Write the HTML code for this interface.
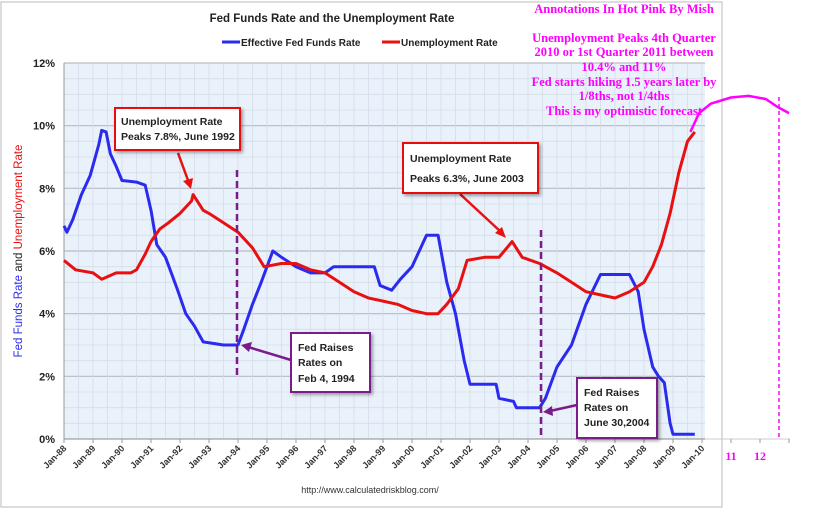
<!DOCTYPE html>
<html><head><meta charset="utf-8">
<style>
body{margin:0;background:#fff;width:820px;height:509px;overflow:hidden;font-family:"Liberation Sans",sans-serif}
svg{display:block}
</style></head>
<body>
<svg id="c" width="820" height="509" xmlns="http://www.w3.org/2000/svg">
<defs>
<filter id="sh" x="-20%" y="-20%" width="150%" height="150%"><feDropShadow dx="2" dy="2" stdDeviation="1.5" flood-color="#000" flood-opacity="0.35"/></filter>
</defs>
<rect x="1" y="2" width="721" height="505" fill="#fff" stroke="#bbb" stroke-width="1"/>
<rect x="64" y="63" width="641" height="376" fill="#e9f1fb"/>
<g id="grid"></g>
<text x="332" y="22" text-anchor="middle" font-weight="bold" font-size="11.5" fill="#222">Fed Funds Rate and the Unemployment Rate</text>
<g>
<g><line x1="222" y1="42" x2="240" y2="42" stroke="#2b2bef" stroke-width="3"/><text x="241" y="46" font-size="10" font-weight="bold" fill="#222">Effective Fed Funds Rate</text></g>
<g><line x1="382" y1="42" x2="400" y2="42" stroke="#e81010" stroke-width="3"/><text x="401" y="46" font-size="10" font-weight="bold" fill="#222">Unemployment Rate</text></g>
</g>
<text transform="translate(22,251) rotate(-90)" text-anchor="middle" font-size="11.5"><tspan fill="#2b2bef">Fed Funds Rate</tspan><tspan fill="#222"> and </tspan><tspan fill="#e81010">Unemployment Rate</tspan></text>
<g id="yt"></g><g id="xt"></g>
<g id="series"></g>
<g font-family="'Liberation Serif',serif" font-weight="bold" font-size="12.5" fill="#ff00ff" text-anchor="middle">
<text x="624" y="13">Annotations In Hot Pink By Mish</text>
<text x="624" y="42">Unemployment Peaks 4th Quarter</text>
<text x="624" y="56">2010 or 1st Quarter 2011 between</text>
<text x="624" y="71">10.4% and 11%</text>
<text x="624" y="86">Fed starts hiking 1.5 years later by</text>
<text x="624" y="100">1/8ths, not 1/4ths</text>
<text x="624" y="115">This is my optimistic forecast</text>
</g>
<line x1="779" y1="97" x2="779" y2="439" stroke="#ff00ff" stroke-width="1.5" stroke-dasharray="4,3"/>
<line x1="237" y1="170" x2="237" y2="375" stroke="#7a1d8a" stroke-width="2.5" stroke-dasharray="7,4"/>
<line x1="541" y1="230" x2="541" y2="439" stroke="#7a1d8a" stroke-width="2.5" stroke-dasharray="7,4"/>
<g>
<line x1="178" y1="153" x2="189" y2="183" stroke="#e81010" stroke-width="2.5"/><path d="M183,181 L191,189 L193,178 Z" fill="#e81010"/>
<rect x="115" y="108" width="125" height="42" fill="#fff" stroke="#e81010" stroke-width="2" filter="url(#sh)"/>
<text x="121" y="125" font-size="10.5" font-weight="bold" fill="#222">Unemployment Rate</text>
<text x="121" y="140" font-size="10.5" font-weight="bold" fill="#222">Peaks 7.8%, June 1992</text></g>
<g>
<line x1="460" y1="194" x2="501" y2="232" stroke="#e81010" stroke-width="2.5"/><path d="M495,233 L506,238 L502,227 Z" fill="#e81010"/>
<rect x="403" y="143" width="135" height="50" fill="#fff" stroke="#e81010" stroke-width="2" filter="url(#sh)"/>
<text x="410" y="162" font-size="10.5" font-weight="bold" fill="#222">Unemployment Rate</text>
<text x="410" y="182" font-size="10.5" font-weight="bold" fill="#222">Peaks 6.3%, June 2003</text></g>
<g>
<line x1="291" y1="360" x2="248" y2="347" stroke="#7a1d8a" stroke-width="2.5"/><path d="M241,345 L252,342 L249,352 Z" fill="#7a1d8a"/>
<rect x="291" y="333" width="79" height="59" fill="#fff" stroke="#7a1d8a" stroke-width="2" filter="url(#sh)"/>
<text x="298" y="351" font-size="10.5" font-weight="bold" fill="#222">Fed Raises</text>
<text x="298" y="366" font-size="10.5" font-weight="bold" fill="#222">Rates on</text>
<text x="298" y="382" font-size="10.5" font-weight="bold" fill="#222">Feb 4, 1994</text></g>
<g>
<line x1="577" y1="405" x2="550" y2="411" stroke="#7a1d8a" stroke-width="2.5"/><path d="M543,412 L552,406 L553,416 Z" fill="#7a1d8a"/>
<rect x="577" y="378" width="80" height="60" fill="#fff" stroke="#7a1d8a" stroke-width="2" filter="url(#sh)"/>
<text x="584" y="396" font-size="10.5" font-weight="bold" fill="#222">Fed Raises</text>
<text x="584" y="411" font-size="10.5" font-weight="bold" fill="#222">Rates on</text>
<text x="584" y="426" font-size="10.5" font-weight="bold" fill="#222">June 30,2004</text></g>
<text x="370" y="493" text-anchor="middle" font-size="9" fill="#333">http://www.calculatedriskblog.com/</text>
</svg>
<script>
const fedT=[1988.0,1988.1,1988.3,1988.6,1988.9,1989.2,1989.3,1989.45,1989.6,1989.8,1990.0,1990.5,1990.8,1991.0,1991.2,1991.5,1991.9,1992.2,1992.5,1992.8,1993.5,1994.0,1994.2,1994.5,1994.8,1995.0,1995.2,1995.5,1996.0,1996.5,1997.0,1997.3,1998.0,1998.7,1998.9,1999.3,1999.6,2000.0,2000.5,2000.9,2001.0,2001.2,2001.5,2001.8,2002.0,2002.9,2003.0,2003.5,2003.6,2004.4,2004.6,2005.0,2005.5,2006.0,2006.5,2007.5,2007.8,2008.0,2008.3,2008.5,2008.7,2008.9,2009.0,2009.75];
const fedV=[6.8,6.6,7.0,7.8,8.4,9.4,9.85,9.8,9.1,8.7,8.25,8.2,8.1,7.3,6.2,5.8,4.8,4.0,3.6,3.1,3.0,3.0,3.5,4.3,5.0,5.5,6.0,5.8,5.5,5.3,5.3,5.5,5.5,5.5,4.9,4.75,5.1,5.5,6.5,6.5,6.0,5.0,4.0,2.5,1.75,1.75,1.3,1.2,1.0,1.0,1.3,2.3,3.0,4.3,5.25,5.25,4.7,3.5,2.3,2.0,1.8,0.5,0.15,0.15];
const unT=[1988.0,1988.4,1989.0,1989.3,1989.8,1990.3,1990.5,1990.8,1991.0,1991.3,1991.6,1992.0,1992.4,1992.45,1992.8,1993.0,1993.5,1994.0,1994.5,1994.9,1995.5,1996.0,1996.5,1997.0,1997.5,1998.0,1998.5,1999.0,1999.5,2000.0,2000.5,2000.9,2001.2,2001.6,2001.9,2002.5,2003.0,2003.45,2003.8,2004.4,2005.0,2005.5,2006.0,2006.5,2007.0,2007.5,2008.0,2008.3,2008.6,2008.9,2009.2,2009.5,2009.75];
const unV=[5.7,5.4,5.3,5.1,5.3,5.3,5.4,5.9,6.3,6.7,6.9,7.2,7.6,7.8,7.3,7.2,6.9,6.6,6.1,5.5,5.6,5.6,5.4,5.3,5.0,4.7,4.5,4.4,4.3,4.1,4.0,4.0,4.3,4.8,5.7,5.8,5.8,6.3,5.8,5.6,5.3,5.0,4.7,4.6,4.5,4.7,5.0,5.5,6.2,7.2,8.5,9.5,9.8];
const fcT=[2009.6,2009.9,2010.3,2011.0,2011.6,2012.2,2012.6,2013.0];
const fcV=[9.8,10.4,10.7,10.9,10.95,10.85,10.6,10.4];
const yTicks=[0,2,4,6,8,10,12];
const xYears=[88,89,90,91,92,93,94,95,96,97,98,99,0,1,2,3,4,5,6,7,8,9,10];
const extraTicks=["11","12"];
const NS="http://www.w3.org/2000/svg";
const X=t=>64+(t-1988)*29, Y=v=>439-v*31.333;
function mk(tag,attrs,parent){const e=document.createElementNS(NS,tag);for(const k in attrs)e.setAttribute(k,attrs[k]);document.getElementById(parent).appendChild(e);return e;}
for(let v=0;v<=12;v+=0.5){const l=mk('line',{x1:64,x2:705,y1:Y(v),y2:Y(v),stroke:v%2===0?'#b8bcc4':'#d6dde8','stroke-width':v%2===0?1.2:0.8},'grid');

}
for(let t=1988;t<=2010;t+=0.5){const l=mk('line',{x1:X(t),x2:X(t),y1:63,y2:439,stroke:'#d6dde8','stroke-width':0.8},'grid');

}
mk('line',{x1:64,x2:64,y1:63,y2:439,stroke:'#999'},'grid');
const xa=mk('line',{x1:64,x2:705,y1:439,y2:439,stroke:'#999'},'grid');


yTicks.forEach(v=>{const t=mk('text',{x:55,y:Y(v)+4,'text-anchor':'end','font-size':11,'font-weight':'bold',fill:'#222'},'yt');t.textContent=v+'%';

});
xYears.forEach((yy,i)=>{const x=X(1988+i);mk('line',{x1:x,x2:x,y1:439,y2:443,stroke:'#999'},'xt');
const t=mk('text',{transform:`translate(${x+3},449) rotate(-45)`,'text-anchor':'end','font-size':9,'font-weight':'bold',fill:'#333'},'xt');
t.textContent='Jan-'+String(yy).padStart(2,'0');

});
mk('line',{x1:705,x2:790,y1:439,y2:439,stroke:'#ccc'},'xt');
extraTicks.forEach((s,i)=>{const x=X(2011+i);mk('line',{x1:x,x2:x,y1:439,y2:443,stroke:'#999'},'xt');
const t=mk('text',{x:x,y:460,'text-anchor':'middle','font-size':12,'font-weight':'bold','font-family':'Liberation Serif,serif',fill:'#ff00ff'},'xt');t.textContent=s;

});
mk('line',{x1:X(2013),x2:X(2013),y1:439,y2:443,stroke:'#999'},'xt');
function path(T,V){return T.map((t,i)=>(i?'L':'M')+X(t).toFixed(1)+','+Y(V[i]).toFixed(1)).join(' ');}
const pf=mk('path',{d:path(fedT,fedV),fill:'none',stroke:'#2b2bef','stroke-width':3,'stroke-linejoin':'round'},'series');


const pu=mk('path',{d:path(unT,unV),fill:'none',stroke:'#e81010','stroke-width':3,'stroke-linejoin':'round'},'series');


const pp=mk('path',{d:path(fcT,fcV),fill:'none',stroke:'#ff00ff','stroke-width':2.5,'stroke-linejoin':'round'},'series');


</script>
</body></html>
